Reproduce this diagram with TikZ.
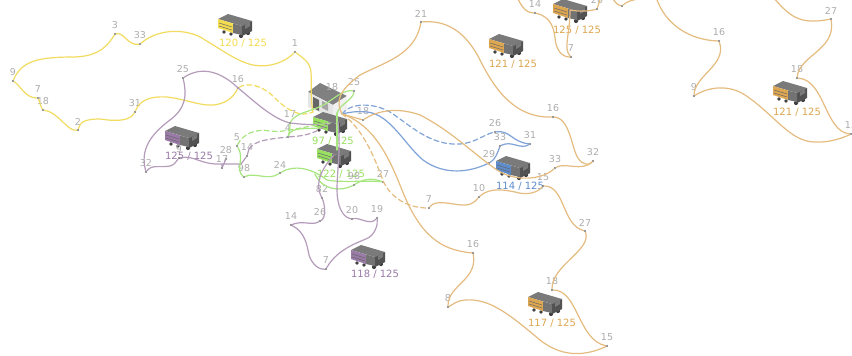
\documentclass[tikz,border=0pt]{standalone}
\usepackage{fontspec}
\setmainfont{DejaVu Sans}
\definecolor{yel}{HTML}{F2DC60}
\definecolor{org}{HTML}{E5BC80}
\definecolor{pur}{HTML}{B49CBA}
\definecolor{grn}{HTML}{A8E680}
\definecolor{blu}{HTML}{7FA3D8}
\definecolor{yelT}{HTML}{F3DC50}
\definecolor{orgT}{HTML}{DDA650}
\definecolor{purT}{HTML}{9A7AA6}
\definecolor{grnT}{HTML}{98E060}
\definecolor{bluT}{HTML}{5E8CCB}
\tikzset{
  route/.style={line width=1.2pt,line cap=round,line join=round,#1},
  dashroute/.style={route=#1,dash pattern=on 5pt off 3pt},
  stopdot/.style={circle,fill=black!55,inner sep=0pt,minimum size=2.4pt},
  stoptext/.style={font=\fontsize{9.5}{10}\selectfont,text=black!32,inner sep=0pt},
  loadtext/.style={font=\fontsize{10}{11}\selectfont,inner sep=0pt},
}
% \stopat{name}{x}{y}{label}
\newcommand{\stopat}[4]{\node[stopdot] (#1) at (#2,#3) {};
  \node[stoptext] (#1t) at (#2,#3-8.5) {#4};}
% \lorry{name}{x}{y}{colour}
\newcommand{\lorry}[4]{\begin{scope}[shift={(#2,#3)}]
  \fill[black!75] (-11,7) circle (1.9) (-4,9) circle (1.9) (6,11) circle (2.1) (13,8) circle (2.1);
  \fill[black!52] (-17,-6) -- (-7,-11) -- (17,-4) -- (7,1) -- cycle;
  \fill[#4] (-17,-6) -- (-2,-1.5) -- (-2,8) -- (-17,3) -- cycle;
  \fill[black!55] (-2,-1.5) -- (7,1) -- (7,10) -- (-2,8) -- cycle;
  \fill[black!68] (7,1) -- (17,-4) -- (17,6) -- (7,11) -- cycle;
  \fill[black!52] (10,0) -- (15,-3) -- (15,1) -- (10,4) -- cycle;
  \draw[black!60,line width=0.5pt] (-16,-2) -- (-3,2) (-16,1) -- (-3,5);
  \coordinate (#1) at (0,0);
\end{scope}}
\begin{document}
\begin{tikzpicture}[x=1pt,y=-1pt]
\useasboundingbox (0,0) rectangle (852,356);
\fill[white] (0,0) rectangle (852,356);

% depot
\fill[black!50] (308,92) -- (320,83) -- (347,96) -- (333,105) -- cycle;
\fill[black!10] (308,92) -- (333,105) -- (333,118) -- (308,107) -- cycle;
\fill[black!6] (333,105) -- (347,96) -- (347,110) -- (333,118) -- cycle;
\fill[black!60] (313,97) -- (319,100) -- (319,111) -- (313,108) -- cycle;
\fill[black!35] (322,101) -- (328,104) -- (328,111) -- (322,108) -- cycle;
\coordinate (hub) at (342,114);

% lorries
\lorry{l120}{235}{25}{yelT}
\lorry{l121a}{506}{45}{orgT}
\lorry{l125b}{570}{10}{orgT}
\lorry{l121b}{790}{92}{orgT}
\lorry{l125p}{182}{137}{purT}
\lorry{l97}{330}{123}{grnT}
\lorry{l122}{334}{155}{grnT}
\lorry{l114}{513}{167}{bluT}
\lorry{l118}{368}{256}{purT}
\lorry{l117}{545}{303}{orgT}

% load labels
\node[loadtext,text=yelT] (t120) at (243,43) {120 / 125};
\node[loadtext,text=orgT] (t121a) at (513,64) {121 / 125};
\node[loadtext,text=orgT] (t125b) at (577,30) {125 / 125};
\node[loadtext,text=orgT] (t121b) at (797,112) {121 / 125};
\node[loadtext,text=purT] (t125p) at (189,156) {125 / 125};
\node[loadtext,text=grnT] (t97) at (333,141) {97 / 125};
\node[loadtext,text=grnT] (t122) at (341,174) {122 / 125};
\node[loadtext,text=bluT] (t114) at (520,186) {114 / 125};
\node[loadtext,text=purT] (t118) at (375,274) {118 / 125};
\node[loadtext,text=orgT] (t117) at (552,323) {117 / 125};

% yellow stops
\stopat{y1}{295}{52}{1}
\stopat{y33}{140}{44}{33}
\stopat{y3}{115}{34}{3}
\stopat{y9}{13}{81}{9}
\stopat{y7}{38}{98}{7}
\stopat{y18}{43}{110}{18}
\stopat{y2}{78}{130}{2}
\stopat{y31}{135}{112}{31}
\stopat{y16}{238}{88}{16}
% purple stops (left)
\stopat{p25}{183}{78}{25}
\stopat{p17a}{290}{123}{17}
\stopat{p32}{146}{172}{32}
\stopat{p9}{179}{158}{9}
\stopat{p28}{226}{159}{28}
\stopat{p17}{222}{168}{17}
\stopat{p14}{247}{156}{14}
\stopat{p4}{288}{137}{4}
% green stops
\stopat{g5}{237}{146}{5}
\stopat{g98}{244}{177}{98}
\stopat{g24}{280}{173}{24}
\stopat{g27}{383}{182}{27}
\stopat{g98b}{354}{185}{98}
\stopat{g25}{354}{91}{25}
% purple stops (lower)
\stopat{q82}{322}{198}{82}
\stopat{q26}{320}{221}{26}
\stopat{q14}{291}{225}{14}
\stopat{q7}{326}{269}{7}
\stopat{q19}{377}{218}{19}
\stopat{q20}{352}{219}{20}
% blue stops
\stopat{b26}{495}{132}{26}
\stopat{b31}{530}{144}{31}
\stopat{b33}{500}{146}{33}
\stopat{b29}{489}{163}{29}
% orange stops
\stopat{o21}{421}{22}{21}
\stopat{o16}{553}{117}{16}
\stopat{o32}{593}{161}{32}
\stopat{o33}{555}{168}{33}
\stopat{o18}{363}{120}{18}
\stopat{r7}{429}{208}{7}
\stopat{r10}{479}{197}{10}
\stopat{r15}{543}{186}{15}
\stopat{r27}{585}{231}{27}
\stopat{r18}{552}{290}{18}
\stopat{r15b}{607}{346}{15}
\stopat{r8}{448}{307}{8}
\stopat{r16}{473}{253}{16}
\stopat{s14}{535}{13}{14}
\stopat{s7}{571}{57}{7}
\stopat{s20}{597}{9}{20}
\stopat{s9}{622}{6}{9}
\stopat{u16}{719}{41}{16}
\stopat{u9}{694}{96}{9}
\stopat{u15}{851}{134}{15}
\stopat{u18}{797}{78}{18}
\stopat{u27}{831}{19}{27}
\node[stoptext] (d18) at (332,87) {18};

\coordinate (offa) at (517,-3);
\coordinate (offb) at (601,-3);
\coordinate (offc) at (612,-3);
\coordinate (offd) at (678,-3);
\coordinate (offe) at (773,-3);
\coordinate (hubY) at (313,112);

% yellow route
\draw[route=yel] (hubY) .. controls (310,95) and (312,85) .. (311,72) .. controls (310,62) and (303,58) .. (y1);
\draw[route=yel] (y1) .. controls (285,62) and (270,68) .. (253,65) .. controls (238,62) and (222,50) .. (205,40) .. controls (190,29) and (160,27) .. (y33);
\draw[route=yel] (y33) .. controls (128,46) and (124,32) .. (y3);
\draw[route=yel] (y3) .. controls (108,45) and (100,56) .. (75,57) .. controls (40,57) and (22,60) .. (y9);
\draw[route=yel] (y9) .. controls (20,85) and (25,98) .. (y7);
\draw[route=yel] (y7) .. controls (40,102) and (40,106) .. (y18);
\draw[route=yel] (y18) .. controls (58,112) and (68,132) .. (y2);
\draw[route=yel] (y2) .. controls (80,122) and (85,119) .. (100,119) .. controls (120,122) and (130,120) .. (y31);
\draw[route=yel] (y31) .. controls (140,100) and (150,96) .. (167,97) .. controls (185,99) and (200,106) .. (213,105) .. controls (225,104) and (233,98) .. (y16);
\draw[dashroute=yel] (y16) .. controls (248,82) and (262,85) .. (275,98) .. controls (287,110) and (300,118) .. (hubY);

% purple left route
\draw[route=pur] (l97) .. controls (315,126) and (300,124) .. (p17a);
\draw[route=pur] (p17a) .. controls (272,118) and (255,102) .. (237,87) .. controls (222,73) and (203,65) .. (p25);
\draw[route=pur] (p25) .. controls (187,95) and (186,108) .. (170,120) .. controls (150,135) and (140,150) .. (p32);
\draw[route=pur] (p32) .. controls (152,164) and (160,168) .. (170,166) .. controls (175,165) and (177,160) .. (p9);
\draw[route=pur] (p9) .. controls (195,155) and (200,165) .. (222,164) -- (p17);
\draw[route=pur] (p17) -- (p28);
\draw[route=pur] (222,164) -- (241,164) -- (p14);
\draw[route=pur] (p14) -- (249,149);
\draw[dashroute=pur] (249,149) .. controls (255,140) and (270,139) .. (p4);
\draw[dashroute=pur] (p4) .. controls (300,136) and (312,136) .. (l97);

% green routes
\draw[dashroute=grn] (g5) .. controls (242,135) and (255,128) .. (270,131) .. controls (285,133) and (300,127) .. (l97);
\draw[route=grn] (g5) .. controls (245,158) and (235,170) .. (g98);
\draw[route=grn] (g98) .. controls (255,172) and (268,181) .. (g24);
\draw[route=grn] (g24) .. controls (293,165) and (310,167) .. (327,180) .. controls (340,183) and (372,180) .. (g27);
\draw[route=grn] (g27) .. controls (370,177) and (362,180) .. (g98b);
\draw[route=grn] (g98b) .. controls (340,192) and (322,190) .. (315,174);
\draw[route=grn] (p4) .. controls (290,130) and (290,127) .. (p17a);
\draw[route=grn] (p4) .. controls (291,127) and (305,129) .. (320,128);
\draw[route=grn] (p17a) .. controls (296,112) and (312,112) .. (327,103) .. controls (338,95) and (345,90) .. (g25);
\draw[route=grn] (g25) .. controls (353,100) and (340,104) .. (337,113);
\draw[route=grn] (337,113) -- (337,150);

% purple lower route
\draw[route=pur] (l122) .. controls (320,170) and (315,185) .. (q82);
\draw[route=pur] (q82) .. controls (325,205) and (326,218) .. (q26);
\draw[route=pur] (q26) .. controls (312,226) and (303,220) .. (q14);
\draw[route=pur] (q14) .. controls (305,232) and (307,245) .. (309,255) .. controls (312,265) and (320,270) .. (q7);
\draw[route=pur] (q7) .. controls (338,248) and (360,242) .. (368,238) .. controls (375,234) and (378,225) .. (q19);
\draw[route=pur] (q19) .. controls (370,226) and (360,217) .. (q20);
\draw[route=pur] (q20) .. controls (342,217) and (337,205) .. (337,190) .. controls (337,170) and (341,150) .. (338,122);

% blue route
\draw[dashroute=blu] (hub) .. controls (350,103) and (372,102) .. (390,112) .. controls (410,125) and (430,146) .. (460,144) .. controls (475,143) and (485,134) .. (b26);
\draw[route=blu] (b26) .. controls (510,130) and (512,142) .. (b31);
\draw[route=blu] (b31) .. controls (520,150) and (512,140) .. (b33);
\draw[route=blu] (b33) .. controls (498,152) and (495,160) .. (b29);
\draw[route=blu] (b29) .. controls (470,172) and (445,176) .. (423,160) .. controls (405,145) and (390,114) .. (367,112) .. controls (358,111) and (350,112) .. (hub);

% orange route via 21
\draw[route=org] (hub) .. controls (335,100) and (340,90) .. (360,75) .. controls (385,62) and (415,55) .. (o21);
\draw[route=org] (o21) .. controls (445,20) and (465,30) .. (480,60) .. controls (495,90) and (515,118) .. (o16);
\draw[route=org] (o16) .. controls (570,118) and (572,150) .. (578,158) .. controls (583,166) and (590,165) .. (o32);
\draw[route=org] (o32) .. controls (582,172) and (565,162) .. (o33);
\draw[route=org] (o33) .. controls (542,180) and (515,182) .. (497,170) .. controls (475,155) and (450,130) .. (420,115) .. controls (395,106) and (375,112) .. (o18);
\draw[route=org] (o18) -- (hub);

% orange route via 7
\draw[dashroute=org] (hub) .. controls (358,125) and (370,145) .. (382,178) .. controls (388,195) and (405,208) .. (r7);
\draw[route=org] (r7) .. controls (436,198) and (455,206) .. (466,205) .. controls (474,204) and (476,200) .. (r10);
\draw[route=org] (r10) .. controls (490,187) and (505,190) .. (515,192) .. controls (528,196) and (538,192) .. (r15);
\draw[route=org] (r15) .. controls (565,186) and (562,225) .. (r27);
\draw[route=org] (r27) .. controls (592,250) and (552,265) .. (r18);
\draw[route=org] (r18) .. controls (578,290) and (578,340) .. (r15b);
\draw[route=org] (r15b) .. controls (590,354) and (565,360) .. (540,340) .. controls (510,315) and (490,298) .. (465,300) .. controls (458,300) and (452,305) .. (r8);
\draw[route=org] (r8) .. controls (448,285) and (478,280) .. (r16);
\draw[route=org] (r16) .. controls (440,250) and (420,235) .. (402,190) .. controls (390,160) and (375,125) .. (hub);

% orange top right
\draw[route=org] (offa) .. controls (522,8) and (527,13) .. (s14);
\draw[route=org] (s14) .. controls (552,17) and (554,30) .. (555,38) .. controls (556,50) and (562,57) .. (s7);
\draw[route=org] (s7) .. controls (563,48) and (570,35) .. (l125b);
\draw[route=org] (l125b) .. controls (580,12) and (590,11) .. (s20);
\draw[route=org] (s20) -- (offb);
\draw[route=org] (offc) .. controls (615,3) and (618,5) .. (s9);
\draw[route=org] (s9) .. controls (630,-2) and (650,-3) .. (offd);
\draw[route=org] (656,-3) .. controls (665,25) and (690,40) .. (u16);
\draw[route=org] (u16) .. controls (727,65) and (695,75) .. (u9);
\draw[route=org] (u9) .. controls (710,86) and (730,85) .. (745,95) .. controls (775,115) and (790,142) .. (815,142) .. controls (830,143) and (845,137) .. (u15);
\draw[route=org] (u15) .. controls (825,132) and (825,80) .. (u18);
\draw[route=org] (u18) .. controls (800,55) and (836,50) .. (u27);
\draw[route=org] (u27) .. controls (800,25) and (790,17) .. (offe);
\end{tikzpicture}
\end{document}
